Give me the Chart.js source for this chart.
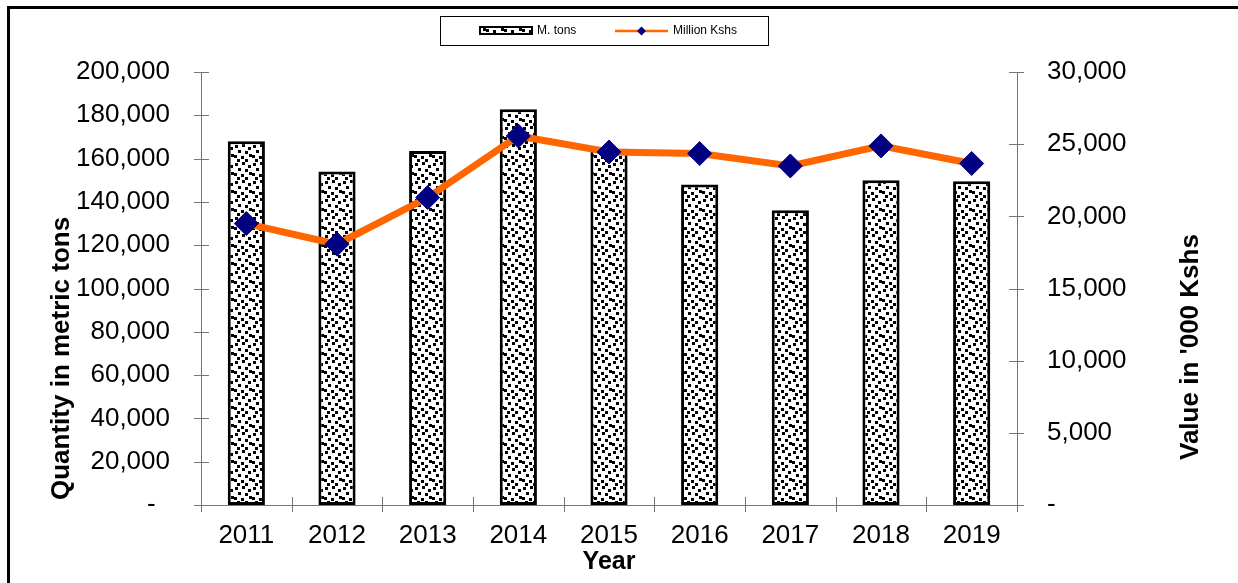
<!DOCTYPE html>
<html>
<head>
<meta charset="utf-8">
<title>Quantity and value, 2011-2019</title>
<script src="https://cdn.jsdelivr.net/npm/chart.js@4/dist/chart.umd.min.js"></script>
<style>
  html, body { margin: 0; padding: 0; background: #fff; }
  canvas { display: block; }
</style>
</head>
<body>
<canvas id="chart" width="1238" height="583"></canvas>
<script>
// Yearly series
const years = ['2011', '2012', '2013', '2014', '2015', '2016', '2017', '2018', '2019'];
const quantityTons = [168000, 154000, 163500, 182800, 164500, 148000, 136200, 150000, 149500];
const valueKshs = [19500, 18070, 21300, 25570, 24460, 24350, 23490, 24880, 23660];

// Axis ranges and labels
const quantityAxis = { min: 0, max: 200000, step: 20000 };
const valueAxis = { min: 0, max: 30000, step: 5000 };
const quantityTitle = 'Quantity in metric tons';
const valueTitle = "Value in '000 Kshs";
const yearTitle = 'Year';
const barLabel = 'M. tons';
const lineLabel = 'Million Kshs';

const FONT = '"Liberation Sans", Arial, Helvetica, sans-serif';
const AXIS_GREY = '#777777';
const ORANGE = '#FF6600';
const NAVY = '#000080';

const canvas = document.getElementById('chart');
const ctx = canvas.getContext('2d');

// Scattered-dot fill used for the bars
function dotPattern(context) {
  const size = 18;
  const tile = document.createElement('canvas');
  tile.width = size; tile.height = size;
  const t = tile.getContext('2d');
  t.fillStyle = '#fff';
  t.fillRect(0, 0, size, size);
  t.fillStyle = '#000';
  [[1, 1], [8, 0], [14, 3], [4, 6], [11, 7], [0, 11], [7, 12], [15, 10], [3, 15], [11, 15]]
    .forEach(([x, y]) => t.fillRect(x, y, 3, 3));
  return context.createPattern(tile, 'repeat');
}
const dots = dotPattern(ctx);

function fmt(v) { return v.toLocaleString('en-US'); }

// Frame, legend, axis titles and cross tick marks
const decorations = {
  id: 'decorations',
  afterDraw(chart) {
    const c = chart.ctx;
    const area = chart.chartArea;
    const xs = chart.scales.x, yq = chart.scales.yQty, yv = chart.scales.yVal;
    c.save();

    // outer frame (left and top edges)
    c.strokeStyle = '#000';
    c.lineWidth = 3;
    c.beginPath();
    c.moveTo(8.5, chart.height);
    c.lineTo(8.5, 7.5);
    c.lineTo(chart.width, 7.5);
    c.stroke();

    // cross tick marks
    c.strokeStyle = AXIS_GREY;
    c.lineWidth = 1;
    c.beginPath();
    yq.ticks.forEach(t => {
      const y = Math.round(yq.getPixelForValue(t.value)) + 0.5;
      c.moveTo(area.left - 7, y); c.lineTo(area.left + 8, y);
    });
    yv.ticks.forEach(t => {
      const y = Math.round(yv.getPixelForValue(t.value)) + 0.5;
      c.moveTo(area.right - 8, y); c.lineTo(area.right + 7, y);
    });
    for (let i = 0; i <= years.length; i++) {
      const x = Math.round(xs.getPixelForValue(i - 0.5)) + 0.5;
      c.moveTo(x, area.bottom - 8); c.lineTo(x, area.bottom + 7);
    }
    c.stroke();

    // axis titles
    c.fillStyle = '#000';
    c.font = 'bold 26px ' + FONT;
    c.textBaseline = 'middle';
    c.save();
    c.translate(62, 500);
    c.rotate(-Math.PI / 2);
    c.textAlign = 'left';
    c.fillText(quantityTitle, 0, 0);
    c.restore();
    c.save();
    c.translate(1191, 460);
    c.rotate(-Math.PI / 2);
    c.textAlign = 'left';
    c.fillText(valueTitle, 0, 0);
    c.restore();
    c.font = 'bold 25px ' + FONT;
    c.textAlign = 'center';
    c.fillText(yearTitle, (area.left + area.right) / 2, 562);

    // legend box
    c.fillStyle = '#fff';
    c.fillRect(440.5, 16.5, 328, 29);
    c.strokeStyle = '#000';
    c.lineWidth = 1;
    c.strokeRect(440.5, 16.5, 328, 29);
    const ly = 31;
    c.fillStyle = dots;
    c.fillRect(480, 27, 52, 7);
    c.lineWidth = 2;
    c.strokeRect(480, 27, 52, 7);
    c.strokeStyle = ORANGE;
    c.lineWidth = 2.5;
    c.beginPath();
    c.moveTo(615, ly); c.lineTo(668, ly);
    c.stroke();
    c.fillStyle = NAVY;
    c.beginPath();
    c.moveTo(641.5, ly - 4.5); c.lineTo(646, ly); c.lineTo(641.5, ly + 4.5); c.lineTo(637, ly);
    c.closePath();
    c.fill();
    c.fillStyle = '#000';
    c.font = '12px ' + FONT;
    c.textAlign = 'left';
    c.textBaseline = 'middle';
    c.fillText(barLabel, 537, ly);
    c.fillText(lineLabel, 673, ly);

    c.restore();
  }
};

new Chart(ctx, {
  data: {
    labels: years,
    datasets: [
      {
        type: 'line',
        label: lineLabel,
        data: valueKshs,
        yAxisID: 'yVal',
        borderColor: ORANGE,
        borderWidth: 7,
        tension: 0,
        pointStyle: 'rectRot',
        pointRadius: 12,
        pointBackgroundColor: NAVY,
        pointBorderColor: NAVY,
        pointBorderWidth: 1,
        order: 0
      },
      {
        type: 'bar',
        label: barLabel,
        data: quantityTons,
        yAxisID: 'yQty',
        backgroundColor: dots,
        borderColor: '#000',
        borderWidth: 3,
        borderSkipped: false,
        categoryPercentage: 1,
        barPercentage: 0.41,
        order: 1
      }
    ]
  },
  options: {
    responsive: false,
    animation: false,
    devicePixelRatio: 1,
    layout: { padding: { top: 72, left: 0, right: 0, bottom: 0 } },
    plugins: { legend: { display: false }, tooltip: { enabled: false } },
    scales: {
      x: {
        type: 'category',
        offset: true,
        grid: { display: false, drawTicks: false },
        border: { display: true, color: AXIS_GREY, width: 1 },
        ticks: { color: '#000', font: { family: FONT, size: 26 }, padding: 15, maxRotation: 0, autoSkip: false },
        afterFit(s) { s.height = 78; }
      },
      yQty: {
        type: 'linear',
        position: 'left',
        min: quantityAxis.min,
        max: quantityAxis.max,
        grid: { display: false, drawTicks: false },
        border: { display: true, color: AXIS_GREY, width: 1 },
        ticks: {
          stepSize: quantityAxis.step,
          color: '#000',
          font: { family: FONT, size: 26 },
          padding: 31,
          callback: v => (v === 0 ? '-  ' : fmt(v))
        },
        afterFit(s) { s.width = 201; }
      },
      yVal: {
        type: 'linear',
        position: 'right',
        min: valueAxis.min,
        max: valueAxis.max,
        grid: { display: false, drawTicks: false },
        border: { display: true, color: AXIS_GREY, width: 1 },
        ticks: {
          stepSize: valueAxis.step,
          color: '#000',
          font: { family: FONT, size: 26 },
          padding: 30,
          callback: v => (v === 0 ? '-' : fmt(v))
        },
        afterFit(s) { s.width = 221; }
      }
    }
  },
  plugins: [decorations]
});
</script>
</body>
</html>
